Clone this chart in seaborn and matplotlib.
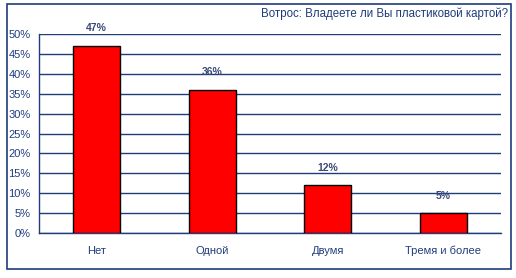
import matplotlib
matplotlib.use("Agg")
import matplotlib.pyplot as plt
import seaborn as sns
import pandas as pd
from matplotlib.patches import Rectangle
from matplotlib.ticker import FixedLocator

categories = ["Нет", "Одной", "Двумя", "Тремя и более"]
values = [47, 36, 12, 5]
value_labels = ["47%", "36%", "12%", "5%"]
yticks = [0, 5, 10, 15, 20, 25, 30, 35, 40, 45, 50]
ytick_labels = ["0%", "5%", "10%", "15%", "20%", "25%", "30%", "35%", "40%", "45%", "50%"]
title = "Вотрос: Владеете ли Вы пластиковой картой?"

sns.set_style("white")
plt.rcParams['font.family'] = ['Liberation Sans', 'DejaVu Sans']

navy = "#1f3c7c"
text_c = "#1f3c7c"
lbl_c = "#3a4a78"

df = pd.DataFrame({"cat": categories, "val": values})

fig = plt.figure(figsize=(5.16, 2.78), dpi=100)
ax = fig.add_axes([39/516, 1-233/278, (501-39)/516, (233-34)/278])

for y in yticks:
    ax.axhline(y, color=navy, lw=1, zorder=0)

sns.barplot(data=df, x="cat", y="val", order=categories, color="#ff0000",
            width=0.41, edgecolor="black", linewidth=1, saturation=1, ax=ax, zorder=3)

ax.set_ylim(0, 50)
ax.set_xlim(-0.5, 3.5)
ax.set_yticks(yticks)
ax.set_yticklabels(ytick_labels, fontsize=8, color=text_c)
ax.set_xticks(range(len(categories)))
ax.set_xticklabels(categories, fontsize=8, color=text_c)
ax.xaxis.set_minor_locator(FixedLocator([-0.5, 0.5, 1.5, 2.5, 3.5]))
ax.tick_params(axis="x", which="major", length=0, pad=9)
ax.tick_params(axis="x", which="minor", length=4, color=navy, direction="out", width=1)
ax.tick_params(axis="y", length=4, color=navy, direction="out", width=1, pad=2)
ax.set_xlabel("")
ax.set_ylabel("")

for s in ["top", "right"]:
    ax.spines[s].set_visible(False)
for s in ["left", "bottom"]:
    ax.spines[s].set_color(navy)
    ax.spines[s].set_linewidth(1)

for i, (v, lab) in enumerate(zip(values, value_labels)):
    ax.annotate(lab, (i, v), xytext=(0, 9), textcoords="offset points",
                ha="center", va="bottom", fontsize=7.5, fontweight="bold", color=lbl_c)

fig.patches.append(Rectangle((7/516, 1-269/278), (511-7)/516, (269-4)/278,
                             transform=fig.transFigure, fill=False,
                             edgecolor=navy, lw=1.2))
fig.text(508/516, 1-14/278, title, ha="right", va="center", fontsize=8.3, color=text_c)

fig.savefig("out.png", dpi=100)
